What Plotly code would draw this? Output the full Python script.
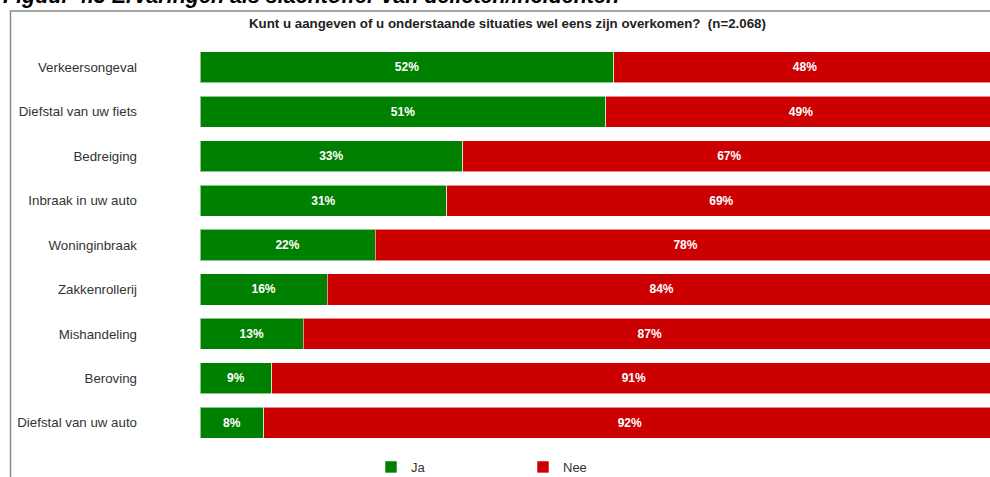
import plotly.graph_objects as go

# Situaties (van boven naar beneden) en percentages Ja / Nee
situaties = [
    "Verkeersongeval",
    "Diefstal van uw fiets",
    "Bedreiging",
    "Inbraak in uw auto",
    "Woninginbraak",
    "Zakkenrollerij",
    "Mishandeling",
    "Beroving",
    "Diefstal van uw auto",
]
ja = [52, 51, 33, 31, 22, 16, 13, 9, 8]
nee = [48, 49, 67, 69, 78, 84, 87, 91, 92]

GROEN = "#008000"
ROOD = "#CC0000"
FONT = "Liberation Sans, Arial, sans-serif"

# Pixel layout helpers
W, H = 990, 477
L, R, T, B = 200, 0, 45, 32
PW, PH = W - L - R, H - T - B


def px_x(px):
    return (px - L) / PW


def px_y(py):
    return 1 + (T - py) / PH


fig = go.Figure()
for naam, waarden, kleur in [("Ja", ja, GROEN), ("Nee", nee, ROOD)]:
    fig.add_trace(go.Bar(
        name=naam,
        y=situaties,
        x=waarden,
        orientation="h",
        marker=dict(color=kleur, line=dict(color="rgba(255,255,255,0.55)", width=1)),
        width=0.7,
        text=[f"{v}%" for v in waarden],
        textposition="inside",
        insidetextanchor="middle",
        textfont=dict(family=FONT, size=12, color="white", weight="bold"),
        hoverinfo="skip",
    ))

fig.update_layout(
    width=W, height=H,
    barmode="stack",
    bargap=0.3,
    plot_bgcolor="white",
    paper_bgcolor="white",
    margin=dict(l=L, r=R, t=T, b=B, pad=0, autoexpand=False),
    font=dict(family=FONT, color="#333333"),
    xaxis=dict(range=[0, PW / 7.96], visible=False, fixedrange=True),
    yaxis=dict(
        categoryorder="array", categoryarray=situaties,
        range=[len(situaties) - 0.5, -0.5],
        showgrid=False, zeroline=False, showline=False, ticks="",
        tickfont=dict(family=FONT, size=13.3, color="#333333"),
        ticklabelstandoff=62,
        automargin=False,
    ),
    legend=dict(
        orientation="h",
        x=px_x(371), xanchor="left",
        y=px_y(452), yanchor="top",
        entrywidth=107, entrywidthmode="pixels",
        itemwidth=30,
        font=dict(family=FONT, size=13, color="#333333"),
        bgcolor="rgba(0,0,0,0)",
        traceorder="normal",
    ),
    shapes=[
        dict(type="rect", xref="paper", yref="paper",
             x0=px_x(10.5), x1=px_x(1010), y0=px_y(500), y1=px_y(11),
             line=dict(color="#8a8a8a", width=1.5), fillcolor="rgba(0,0,0,0)",
             layer="below"),
    ],
    annotations=[
        dict(text="Figuur 4.3 Ervaringen als slachtoffer van delicten/incidenten",
             xref="paper", yref="paper", x=px_x(1), y=px_y(-3.5),
             xanchor="left", yanchor="middle", showarrow=False,
             font=dict(family=FONT, size=21.5, color="black", weight="bold", style="italic")),
        dict(text="Kunt u aangeven of u onderstaande situaties wel eens zijn overkomen?  (n=2.068)",
             xref="paper", yref="paper", x=px_x(507), y=px_y(23),
             xanchor="center", yanchor="middle", showarrow=False,
             font=dict(family=FONT, size=13.3, color="#222222", weight="bold")),
    ],
)

fig.write_html("out.html")
